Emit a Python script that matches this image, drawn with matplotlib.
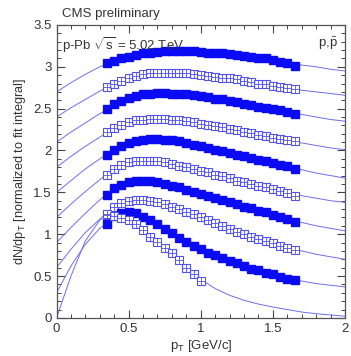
import numpy as np
import matplotlib
matplotlib.use("Agg")
import matplotlib.pyplot as plt
from matplotlib.ticker import MultipleLocator

plt.rcParams['font.family'] = ['Liberation Sans', 'DejaVu Sans']
plt.rcParams['mathtext.fontset'] = 'custom'
plt.rcParams['mathtext.rm'] = 'Liberation Sans'
plt.rcParams['mathtext.it'] = 'Liberation Sans:italic'

# ---- data ----
pt_points = [0.35, 0.40, 0.45, 0.50, 0.55, 0.60, 0.65, 0.70, 0.75, 0.80, 0.85, 0.90, 0.95,
             1.00, 1.05, 1.10, 1.15, 1.20, 1.25, 1.30, 1.35, 1.40, 1.45, 1.50, 1.55, 1.60, 1.65]

s0 = [3.04, 3.07, 3.10, 3.12, 3.14, 3.16, 3.17, 3.18, 3.19, 3.19, 3.19, 3.19, 3.19,
      3.18, 3.17, 3.16, 3.16, 3.15, 3.14, 3.13, 3.12, 3.11, 3.10, 3.08, 3.06, 3.05, 3.01]
s1 = [2.76, 2.80, 2.83, 2.86, 2.89, 2.91, 2.92, 2.93, 2.93, 2.93, 2.93, 2.92, 2.91,
      2.90, 2.89, 2.88, 2.87, 2.86, 2.85, 2.83, 2.82, 2.80, 2.79, 2.77, 2.76, 2.75, 2.73]
s2 = [2.50, 2.55, 2.59, 2.63, 2.65, 2.67, 2.68, 2.69, 2.69, 2.68, 2.68, 2.67, 2.66,
      2.65, 2.64, 2.62, 2.61, 2.59, 2.58, 2.56, 2.54, 2.52, 2.51, 2.49, 2.48, 2.46, 2.44]
s3 = [2.22, 2.27, 2.31, 2.34, 2.36, 2.37, 2.38, 2.38, 2.38, 2.37, 2.36, 2.35, 2.34,
      2.32, 2.31, 2.29, 2.28, 2.26, 2.24, 2.22, 2.21, 2.19, 2.17, 2.15, 2.14, 2.12, 2.11]
s4 = [1.95, 2.01, 2.05, 2.09, 2.11, 2.13, 2.14, 2.14, 2.13, 2.12, 2.11, 2.09, 2.07,
      2.05, 2.03, 2.01, 1.99, 1.97, 1.95, 1.93, 1.91, 1.89, 1.87, 1.85, 1.83, 1.81, 1.78]
s5 = [1.71, 1.78, 1.83, 1.86, 1.88, 1.88, 1.88, 1.87, 1.86, 1.84, 1.82, 1.80, 1.78,
      1.76, 1.74, 1.71, 1.69, 1.67, 1.64, 1.62, 1.60, 1.58, 1.56, 1.54, 1.52, 1.49, 1.46]
s6 = [1.47, 1.55, 1.59, 1.62, 1.64, 1.64, 1.63, 1.62, 1.60, 1.58, 1.56, 1.53, 1.51,
      1.48, 1.46, 1.43, 1.41, 1.38, 1.36, 1.33, 1.31, 1.28, 1.26, 1.23, 1.21, 1.18, 1.15]
s7 = [1.23, 1.32, 1.37, 1.40, 1.41, 1.41, 1.40, 1.38, 1.36, 1.33, 1.30, 1.27, 1.24,
      1.20, 1.17, 1.13, 1.10, 1.06, 1.03, 1.00, 0.97, 0.94, 0.92, 0.89, 0.86, 0.84, 0.81]
s8 = [1.12, 1.22, 1.25, 1.27, 1.25, 1.21, 1.17, 1.12, 1.06, 1.01, 0.96, 0.91, 0.86,
      0.82, 0.78, 0.75, 0.71, 0.68, 0.65, 0.62, 0.59, 0.57, 0.54, 0.52, 0.49, 0.47, 0.45]
s9 = [1.24, 1.22, 1.19, 1.17, 1.12, 1.05, 0.97, 0.91, 0.84, 0.78, 0.69, 0.60, 0.52, 0.44]

series = [s0, s1, s2, s3, s4, s5, s6, s7, s8, s9]
filled = [True, False, True, False, True, False, True, False, True, False]

# fit curves sampled every 0.1 GeV/c from 0 to 2
fit_x = [0.0, 0.1, 0.2, 0.3, 0.4, 0.5, 0.6, 0.7, 0.8, 0.9, 1.0,
         1.1, 1.2, 1.3, 1.4, 1.5, 1.6, 1.7, 1.8, 1.9, 2.0]
f0 = [2.70, 2.81, 2.91, 3.00, 3.07, 3.12, 3.16, 3.18, 3.19, 3.19, 3.18,
      3.16, 3.15, 3.13, 3.11, 3.08, 3.05, 3.02, 3.00, 2.97, 2.95]
f1 = [2.40, 2.51, 2.61, 2.71, 2.79, 2.86, 2.91, 2.93, 2.93, 2.92, 2.90,
      2.88, 2.86, 2.83, 2.80, 2.77, 2.74, 2.72, 2.70, 2.68, 2.66]
f2 = [2.10, 2.22, 2.33, 2.44, 2.53, 2.61, 2.66, 2.68, 2.68, 2.67, 2.65,
      2.62, 2.59, 2.56, 2.52, 2.49, 2.46, 2.43, 2.40, 2.37, 2.35]
f3 = [1.80, 1.93, 2.05, 2.16, 2.26, 2.33, 2.37, 2.38, 2.37, 2.35, 2.32,
      2.29, 2.26, 2.22, 2.19, 2.15, 2.12, 2.09, 2.06, 2.03, 2.01]
f4 = [1.50, 1.64, 1.78, 1.90, 2.01, 2.09, 2.13, 2.14, 2.12, 2.09, 2.05,
      2.01, 1.97, 1.93, 1.89, 1.85, 1.81, 1.77, 1.73, 1.70, 1.67]
f5 = [1.20, 1.36, 1.51, 1.65, 1.79, 1.86, 1.88, 1.87, 1.84, 1.80, 1.76,
      1.71, 1.67, 1.62, 1.58, 1.54, 1.50, 1.46, 1.43, 1.40, 1.38]
f6 = [0.90, 1.08, 1.25, 1.41, 1.55, 1.62, 1.64, 1.62, 1.58, 1.53, 1.48,
      1.43, 1.38, 1.33, 1.28, 1.23, 1.18, 1.14, 1.10, 1.07, 1.04]
f7 = [0.60, 0.82, 1.02, 1.18, 1.33, 1.40, 1.41, 1.38, 1.33, 1.27, 1.20,
      1.13, 1.06, 1.00, 0.94, 0.89, 0.84, 0.80, 0.76, 0.73, 0.70]
f8 = [0.30, 0.62, 0.88, 1.07, 1.20, 1.26, 1.23, 1.13, 1.01, 0.91, 0.82,
      0.75, 0.68, 0.62, 0.57, 0.52, 0.47, 0.44, 0.41, 0.39, 0.37]
f9 = [0.00, 0.50, 0.92, 1.17, 1.24, 1.18, 1.06, 0.92, 0.77, 0.61, 0.46,
      0.35, 0.27, 0.21, 0.165, 0.13, 0.10, 0.07, 0.05, 0.035, 0.02]
fits = [f0, f1, f2, f3, f4, f5, f6, f7, f8, f9]

# ---- plot ----
fig = plt.figure(figsize=(3.51, 3.56), dpi=100)
ax = fig.add_axes([0.161, 0.107, 0.822, 0.823])

line_col = '#6e6ef0'
fill_col = '#0a0af5'
open_col = '#5252e8'

for fy in fits:
    ax.plot(fit_x, fy, color=line_col, lw=0.7, zorder=2)

for ys, fl in zip(series, filled):
    xs = pt_points[:len(ys)]
    if fl:
        ax.plot(xs, ys, ls='none', marker='s', ms=6.0, color=fill_col,
                mec=fill_col, zorder=3)
    else:
        ax.plot(xs, ys, ls='none', marker='s', ms=5.2, mfc='white',
                mec=open_col, mew=0.8, zorder=3)
        ax.plot(xs, ys, ls='none', marker='+', ms=5.2, color=open_col,
                mew=0.6, zorder=4)

ax.set_xlim(0, 2)
ax.set_ylim(0, 3.5)
ax.xaxis.set_minor_locator(MultipleLocator(0.1))
ax.yaxis.set_minor_locator(MultipleLocator(0.1))
ax.set_xticks([0, 0.5, 1, 1.5, 2])
ax.set_xticklabels(['0', '0.5', '1', '1.5', '2'])
ax.set_yticks([0, 0.5, 1, 1.5, 2, 2.5, 3, 3.5])
ax.set_yticklabels(['0', '0.5', '1', '1.5', '2', '2.5', '3', '3.5'])
ax.tick_params(which='both', direction='in', top=True, right=True,
               colors='#444444', labelcolor='#333333', labelsize=9.5)
ax.tick_params(which='major', length=6, width=0.8)
ax.tick_params(which='minor', length=3, width=0.7)
for sp in ax.spines.values():
    sp.set_color('#555555')
    sp.set_linewidth(0.9)

ax.set_xlabel(r'p$_{\mathrm{T}}$ [GeV/c]', fontsize=9.5, color='#333333', labelpad=2)
ax.set_ylabel(r'dN/dp$_{\mathrm{T}}$ [normalized to fit integral]', fontsize=9.2,
              color='#333333', labelpad=4)

fig.text(0.176, 0.962, 'CMS preliminary', fontsize=9.5, color='#333333',
         ha='left', va='center')
ax.text(0.02, 0.965, r'p-Pb $\sqrt{\mathrm{s}}$ = 5.02 TeV', transform=ax.transAxes,
        fontsize=9.5, color='#333333', ha='left', va='top')
ax.text(0.975, 0.965, r'p,$\bar{\mathrm{p}}$', transform=ax.transAxes,
        fontsize=9.5, color='#333333', ha='right', va='top')

fig.savefig('out.png', dpi=100)
